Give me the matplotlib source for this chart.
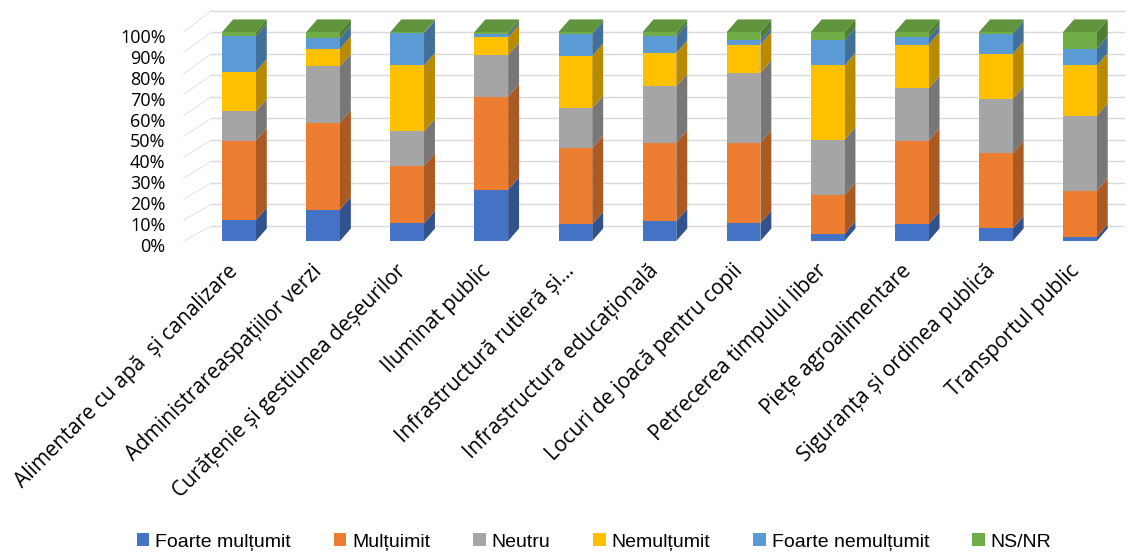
import matplotlib
matplotlib.use("Agg")
import matplotlib.pyplot as plt
from matplotlib.patches import Rectangle, Polygon, Patch
from matplotlib.colors import to_rgb
import matplotlib.transforms as mtransforms

# categorii si serii (procente)
categories = [
    "Alimentare cu apă  și canalizare",
    "Administrareaspațiilor verzi",
    "Curățenie și gestiunea deșeurilor",
    "Iluminat public",
    "Infrastructură rutieră și…",
    "Infrastructura educațională",
    "Locuri de joacă pentru copii",
    "Petrecerea timpului liber",
    "Piețe agroalimentare",
    "Siguranța și ordinea publică",
    "Transportul public",
]
series_names = ["Foarte mulțumit", "Mulțuimit", "Neutru", "Nemulțumit", "Foarte nemulțumit", "NS/NR"]
foarte_multumit = [10, 15, 8.5, 24.5, 8, 9.5, 8.5, 3.5, 8, 6, 2]
multumit = [38, 41.5, 27.5, 44.5, 36.5, 37.5, 38.5, 18.5, 40, 36, 22]
neutru = [14, 27, 16.5, 20, 19, 27, 33.5, 26.5, 25, 26, 36]
nemultumit = [19, 8.5, 31.5, 8.5, 25, 16, 13.5, 35.5, 21, 21.5, 24]
foarte_nemultumit = [17, 5, 15.5, 1.5, 10.5, 8, 2, 12, 3.5, 9.5, 8]
ns_nr = [2, 3, 0.5, 1, 1, 2, 4, 4, 2.5, 1, 8]
series = [foarte_multumit, multumit, neutru, nemultumit, foarte_nemultumit, ns_nr]
colors = ["#4472C4", "#ED7D31", "#A5A5A5", "#FFC000", "#5B9BD5", "#70AD47"]
yticks = [0, 10, 20, 30, 40, 50, 60, 70, 80, 90, 100]

def shade(c, f):
    r, g, b = to_rgb(c)
    return (r * f, g * f, b * f)

fig = plt.figure(figsize=(11.45, 5.56), dpi=100)
ax = fig.add_axes([0.1555, 0.5665, 0.827, 0.4245])
ax.set_xlim(-0.725, 10.535)
ax.set_ylim(0, 112.9)

w = 0.4      # latimea fetei din fata
dx = 0.13    # adancimea barei
dy = 6.0
grid_c = "#D9D9D9"

# peretele din spate: linii de grila
def back(v):
    return v * 1.03 + 7.2

for v in yticks:
    ax.plot([-0.33, 10.535], [back(v), back(v)], color=grid_c, lw=1.0, zorder=0)
    ax.plot([-0.66, -0.33], [v, back(v)], color="#E6E6E6", lw=0.8, zorder=0)

# barele 3D
for i in range(len(categories)):
    bottom = 0
    for k, vals in enumerate(series):
        h = vals[i]
        top = bottom + h
        c = colors[k]
        ax.add_patch(Polygon([(i + w / 2, bottom), (i + w / 2 + dx, bottom + dy),
                              (i + w / 2 + dx, top + dy), (i + w / 2, top)],
                             closed=True, facecolor=shade(c, 0.72), edgecolor="none", zorder=2))
        ax.add_patch(Rectangle((i - w / 2, bottom), w, h, facecolor=c, edgecolor="none", zorder=3))
        bottom = top
    ax.add_patch(Polygon([(i - w / 2, bottom), (i - w / 2 + dx, bottom + dy),
                          (i + w / 2 + dx, bottom + dy), (i + w / 2, bottom)],
                         closed=True, facecolor=shade(colors[-1], 0.85), edgecolor="none", zorder=3))

for s in ax.spines.values():
    s.set_visible(False)

ax.set_yticks(yticks)
ax.set_yticklabels([f"{v}%" for v in yticks], fontsize=13, family=["Open Sans", "DejaVu Sans"])
ax.tick_params(axis="y", length=0, pad=9)
off = mtransforms.ScaledTranslation(0, -4 / 100, fig.dpi_scale_trans)
for lab in ax.get_yticklabels():
    lab.set_transform(lab.get_transform() + off)

ax.set_xticks([])
lab_off = mtransforms.ScaledTranslation(-4 / 100, -27 / 100, fig.dpi_scale_trans)
for i, name in enumerate(categories):
    ax.text(i, 0, name, rotation=45, rotation_mode="anchor", ha="right", va="center",
            fontsize=15, family=["Open Sans", "DejaVu Sans"],
            transform=ax.transData + lab_off, clip_on=False)

handles = [Patch(facecolor=c, edgecolor="none") for c in colors]
fig.legend(handles, series_names, loc="center", bbox_to_anchor=(594 / 1145, 1 - 542 / 556),
           ncol=6, frameon=False, handlelength=0.65, handleheight=0.65, handletextpad=0.3,
           columnspacing=2.2, prop={"family": ["Liberation Sans Narrow", "Liberation Sans", "DejaVu Sans"], "size": 14})

fig.savefig("out.png", dpi=100)
